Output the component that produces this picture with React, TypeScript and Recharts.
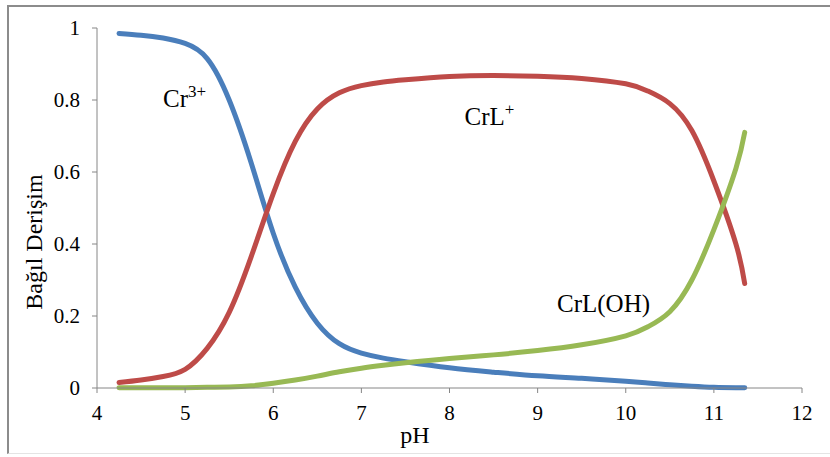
import React from 'react'
import { LineChart, Line, XAxis, YAxis, ReferenceDot, Label } from 'recharts'

const pH = [4.25, 4.5, 4.75, 5, 5.25, 5.5, 5.75, 6, 6.25, 6.5, 6.75, 7, 7.25, 7.5, 8, 8.5, 9, 9.5, 10, 10.25, 10.5, 10.75, 11, 11.25, 11.35]
const cr3 = [0.985, 0.98, 0.972, 0.957, 0.915, 0.8, 0.625, 0.43, 0.28, 0.18, 0.123, 0.097, 0.083, 0.073, 0.056, 0.044, 0.034, 0.027, 0.019, 0.014, 0.009, 0.005, 0.002, 0.001, 0.001]
const crL = [0.015, 0.022, 0.032, 0.052, 0.11, 0.21, 0.365, 0.54, 0.685, 0.775, 0.82, 0.84, 0.85, 0.856, 0.865, 0.868, 0.866, 0.86, 0.845, 0.825, 0.79, 0.715, 0.575, 0.4, 0.29]
const crLOH = [0.001, 0.001, 0.001, 0.001, 0.002, 0.003, 0.006, 0.013, 0.022, 0.033, 0.045, 0.055, 0.063, 0.07, 0.082, 0.092, 0.104, 0.12, 0.145, 0.17, 0.212, 0.3, 0.44, 0.61, 0.71]

const xTicks = [4, 5, 6, 7, 8, 9, 10, 11, 12]
const yTicks = [0, 0.2, 0.4, 0.6, 0.8, 1]

const FONT = 'Liberation Serif, DejaVu Serif, serif'
const AXIS = '#868686'

const data = pH.map((p, i) => ({ pH: p, cr3: cr3[i], crL: crL[i], crLOH: crLOH[i] }))

const speciesLabels = [
  { x: 4.75, y: 0.78, text: 'Cr', sup: '3+' },
  { x: 8.17, y: 0.73, text: 'CrL', sup: '+' },
  { x: 9.22, y: 0.21, text: 'CrL(OH)', sup: '' },
]

const tickStyle = { fontSize: 21, fill: '#000', fontFamily: FONT }

export default function App() {
  return (
    <div style={{ position: 'absolute', left: 0, top: 0, width: 830, height: 457, background: '#fff', overflow: 'hidden', fontFamily: FONT }}>
      <div style={{ position: 'absolute', left: 7, top: 5, width: 840, height: 449, borderTop: '2px solid #8c8c8c', borderLeft: '2px solid #8c8c8c', borderBottom: '1px solid #e4e4e4', boxSizing: 'border-box' }} />
      <LineChart
        width={830}
        height={457}
        data={data}
        margin={{ top: 28, right: 28, left: 0, bottom: 39 }}
        style={{ position: 'absolute', left: 0, top: 0, fontFamily: FONT }}
      >
        <XAxis
          dataKey="pH"
          type="number"
          domain={[4, 12]}
          ticks={xTicks}
          stroke={AXIS}
          tick={tickStyle}
          tickSize={5}
          tickMargin={12}
          height={30}
          allowDataOverflow
        >
          <Label
            content={() => (
              <text x={415} y={443} textAnchor="middle" fontSize={24} fontFamily={FONT} fill="#000">pH</text>
            )}
          />
        </XAxis>
        <YAxis
          type="number"
          domain={[0, 1]}
          ticks={yTicks}
          stroke={AXIS}
          tick={tickStyle}
          tickSize={5}
          tickMargin={12}
          width={97}
        >
          <Label
            content={() => (
              <text x={42} y={242} textAnchor="middle" fontSize={24} fontFamily={FONT} fill="#000" transform="rotate(-90, 42, 242)">Bağıl Derişim</text>
            )}
          />
        </YAxis>
        <Line type="natural" dataKey="cr3" stroke="#4A7EBB" strokeWidth={5} strokeLinecap="round" dot={false} isAnimationActive={false} />
        <Line type="natural" dataKey="crL" stroke="#BE4B48" strokeWidth={5} strokeLinecap="round" dot={false} isAnimationActive={false} />
        <Line type="natural" dataKey="crLOH" stroke="#98B954" strokeWidth={5} strokeLinecap="round" dot={false} isAnimationActive={false} />
        {speciesLabels.map(l => (
          <ReferenceDot
            key={l.text}
            x={l.x}
            y={l.y}
            r={0}
            shape={(p: any) => (
              <text x={p.cx} y={p.cy} fontSize={25} fontFamily={FONT} fill="#000">
                {l.text}
                {l.sup && <tspan dy={-10} fontSize={17}>{l.sup}</tspan>}
              </text>
            )}
          />
        ))}
      </LineChart>
    </div>
  )
}
